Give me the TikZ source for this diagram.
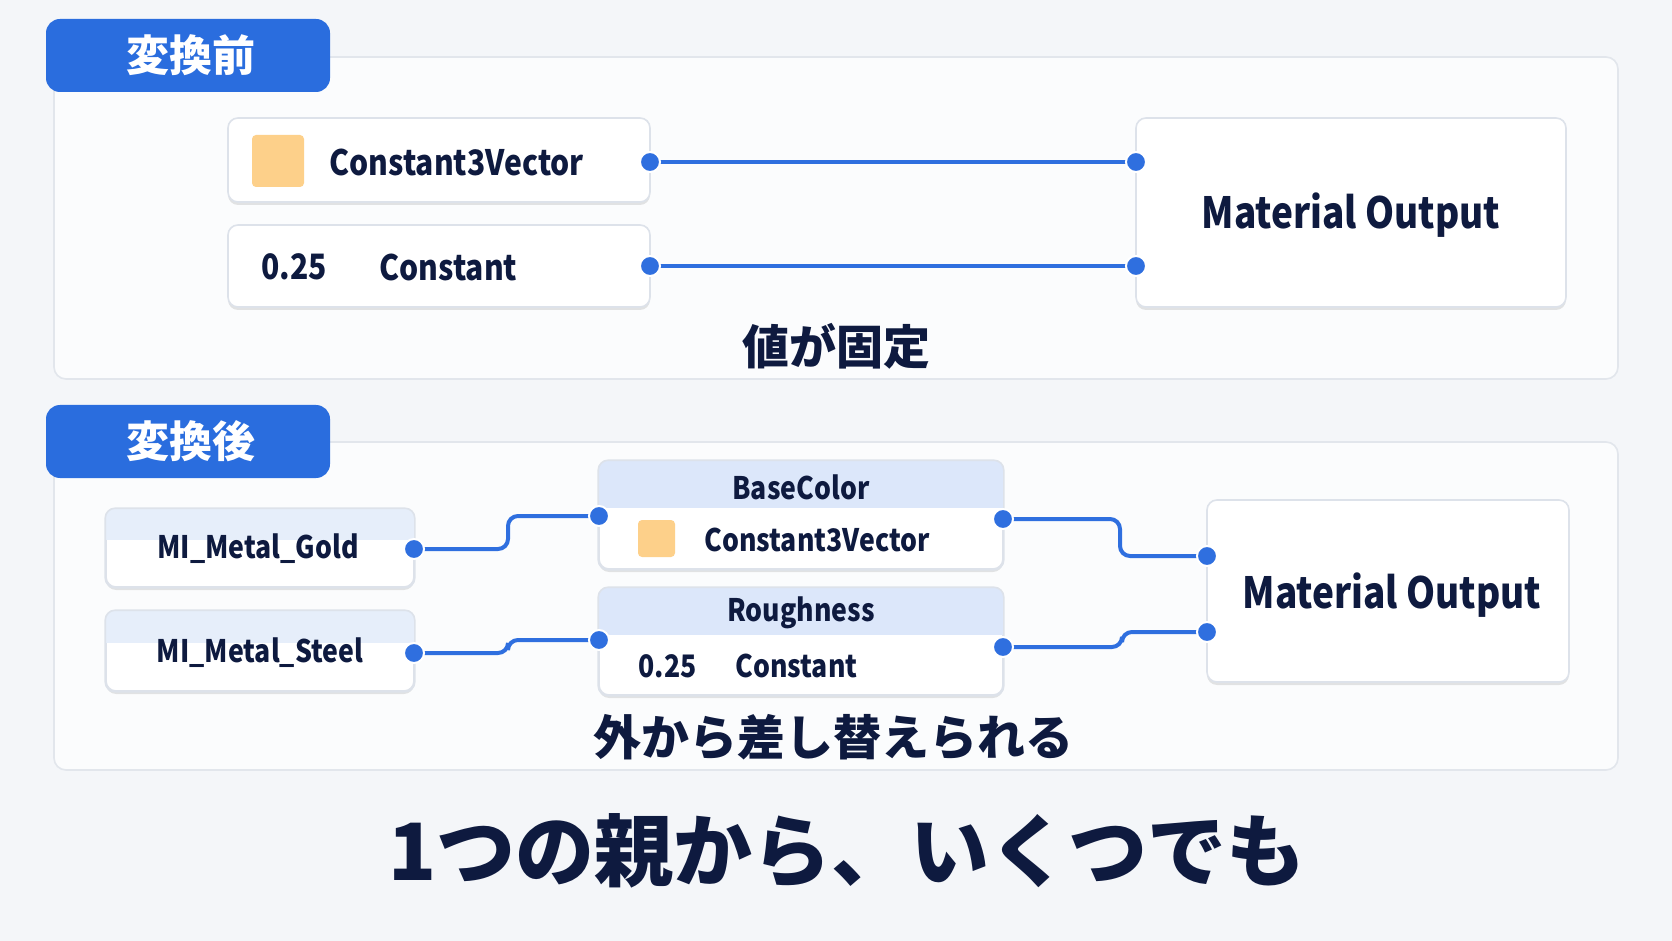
\documentclass[tikz,border=0pt]{standalone}
\usepackage{fontspec}
\setmainfont{Noto Sans CJK JP}
\newfontfamily\lat{Noto Sans CJK JP}[FakeStretch=0.86]
\usetikzlibrary{shadows}
\definecolor{bgc}{HTML}{F4F6F9}
\definecolor{panelc}{HTML}{FBFCFD}
\definecolor{panelb}{HTML}{E2E6EC}
\definecolor{tabc}{HTML}{2A6DDE}
\definecolor{navy}{HTML}{0E1A3F}
\definecolor{wirec}{HTML}{2F6FDF}
\definecolor{swatchc}{HTML}{FDD08A}
\definecolor{hdrc}{HTML}{DCE7FA}
\definecolor{hdrl}{HTML}{E6EEFA}
\definecolor{nodeb}{HTML}{DDE2EA}
\newcommand{\fs}[1]{\bfseries\fontsize{#1}{#1}\selectfont}
\newcommand{\lfs}[1]{\lat\bfseries\fontsize{#1}{#1}\selectfont}
\begin{document}
\begin{tikzpicture}[x=0.5pt,y=-0.5pt,
  panel/.style={draw=panelb,fill=panelc,line width=0.8pt,rounded corners=6pt},
  tab/.style={fill=tabc,rounded corners=7pt,draw=none},
  tabtext/.style={text=white,font=\fs{21.5pt}},
  nodebox/.style={draw=nodeb,fill=white,line width=0.8pt,rounded corners=5pt,
     drop shadow={shadow xshift=0pt,shadow yshift=-1.5pt,opacity=0.10,fill=black}},
  lbl/.style={text=navy,font=\lfs{17.5pt},inner sep=0pt},
  slbl/.style={text=navy,font=\lfs{15.5pt},inner sep=0pt},
  big/.style={text=navy,font=\lfs{21.5pt},inner sep=0pt},
  wire/.style={draw=wirec,line width=2pt,rounded corners=5pt},
  port/.style={circle,fill=wirec,draw=white,line width=1pt,inner sep=0pt,minimum size=10pt},
  swatch/.style={fill=swatchc,rounded corners=2pt}
]
\useasboundingbox (0,0) rectangle (1672,941);
\fill[bgc] (0,0) rectangle (1672,941);

% ---------- panel 1 ----------
\draw[panel] (54,57) rectangle (1618,379);
\fill[tab] (46,19) rectangle (330,92);
\node[tabtext] (tab1) at (191,55) {変換前};

\node[nodebox,minimum width=211pt,minimum height=42pt] (cv1) at (439,160) {};
\fill[swatch] (252,135) rectangle (304,187);
\node[lbl,anchor=west] (cv1t) at (329,162) {Constant3Vector};

\node[nodebox,minimum width=211pt,minimum height=41pt] (c1) at (439,266) {};
\node[lbl,anchor=west] (c1v) at (261,267) {0.25};
\node[lbl,anchor=west] (c1t) at (379,267) {Constant};

\node[nodebox,minimum width=215pt,minimum height=94.5pt] (mo1) at (1351,212.5) {};
\node[big] (mo1t) at (1351,215) {Material Output};

\coordinate (cv1o) at (650,162);
\coordinate (c1o) at (650,266);
\coordinate (mo1a) at (1136,162);
\coordinate (mo1b) at (1136,266);
\draw[wire] (cv1o) -- (mo1a);
\draw[wire] (c1o) -- (mo1b);
\foreach \p in {cv1o,c1o,mo1a,mo1b} \node[port] at (\p) {};

\node[text=navy,font=\fs{23.5pt}] (fixed) at (836,346) {値が固定};

% ---------- panel 2 ----------
\draw[panel] (54,442) rectangle (1618,770);
\fill[tab] (46,405) rectangle (330,478);
\node[tabtext] (tab2) at (191,441) {変換後};

% MI nodes
\node[nodebox,minimum width=154pt,minimum height=39pt] (gold) at (260,548) {};
\begin{scope}
  \clip[rounded corners=5pt] (gold.north west) rectangle (gold.south east);
  \fill[hdrl] (gold.north west) rectangle (414,540);
\end{scope}
\draw[draw=nodeb,line width=0.8pt,rounded corners=5pt] (gold.north west) rectangle (gold.south east);
\node[slbl] (goldt) at (258,549) {MI\_Metal\_Gold};

\node[nodebox,minimum width=154pt,minimum height=40pt] (steel) at (260,651) {};
\begin{scope}
  \clip[rounded corners=5pt] (steel.north west) rectangle (steel.south east);
  \fill[hdrl] (steel.north west) rectangle (414,643);
\end{scope}
\draw[draw=nodeb,line width=0.8pt,rounded corners=5pt] (steel.north west) rectangle (steel.south east);
\node[slbl] (steelt) at (260,653) {MI\_Metal\_Steel};

% BaseColor
\node[nodebox,minimum width=202pt,minimum height=54pt] (base) at (801,515) {};
\begin{scope}
  \clip[rounded corners=5pt] (base.north west) rectangle (base.south east);
  \fill[hdrc] (base.north west) rectangle (1003,508);
\end{scope}
\draw[draw=nodeb,line width=0.8pt,rounded corners=5pt] (base.north west) rectangle (base.south east);
\node[slbl] (baset) at (801,487) {BaseColor};
\fill[swatch] (638,520) rectangle (675,557);
\node[slbl,anchor=west] (cv2t) at (704,540) {Constant3Vector};

% Roughness
\node[nodebox,minimum width=202pt,minimum height=53.5pt] (rough) at (801,641.5) {};
\begin{scope}
  \clip[rounded corners=5pt] (rough.north west) rectangle (rough.south east);
  \fill[hdrc] (rough.north west) rectangle (1003,635);
\end{scope}
\draw[draw=nodeb,line width=0.8pt,rounded corners=5pt] (rough.north west) rectangle (rough.south east);
\node[slbl] (rought) at (801,613) {Roughness};
\node[slbl,anchor=west] (c2v) at (638,666) {0.25};
\node[slbl,anchor=west] (c2t) at (735,666) {Constant};

% Material Output 2
\node[nodebox,minimum width=181pt,minimum height=91pt] (mo2) at (1388,591) {};
\node[big] (mo2t) at (1392,595) {Material Output};

\coordinate (goldo) at (414,549);
\coordinate (steelo) at (414,653);
\coordinate (basei) at (599,516);
\coordinate (baseo) at (1003,519);
\coordinate (roughi) at (599,640);
\coordinate (rougho) at (1003,647);
\coordinate (mo2a) at (1207,556);
\coordinate (mo2b) at (1207,632);

\draw[wire] (goldo) -- (508,549) -- (508,516) -- (basei);
\draw[wire] (steelo) -- (508,653) -- (508,640) -- (roughi);
\draw[wire] (baseo) -- (1120,519) -- (1120,556) -- (mo2a);
\draw[wire] (rougho) -- (1122,647) -- (1122,632) -- (mo2b);
\foreach \p in {goldo,steelo,basei,baseo,roughi,rougho,mo2a,mo2b} \node[port] at (\p) {};

\node[text=navy,font=\fs{24pt}] (swap) at (833,737) {外から差し替えられる};

% ---------- bottom title ----------
\node[text=navy,font=\fs{39.5pt}] (title) at (847,851) {1つの親から、いくつでも};
\end{tikzpicture}
\end{document}
